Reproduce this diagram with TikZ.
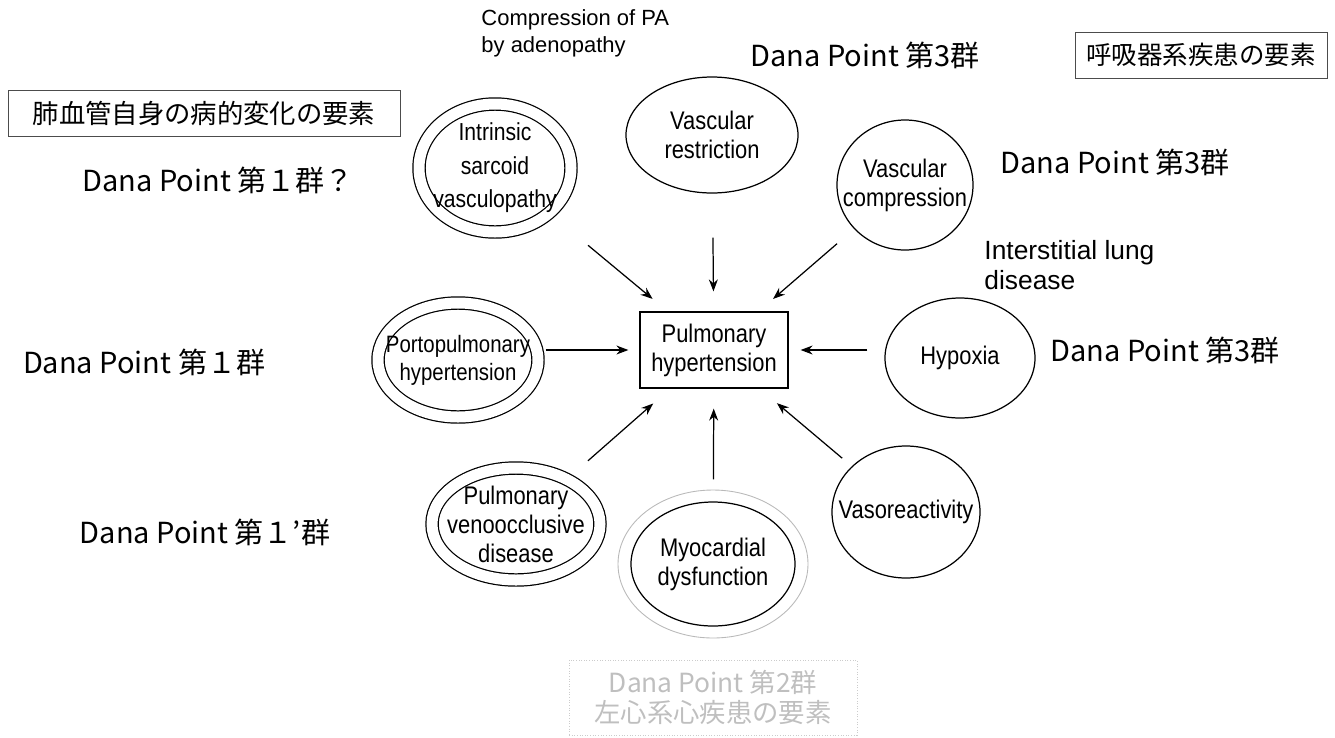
\documentclass[tikz,border=0pt]{standalone}
\usepackage{fontspec}
\setmainfont{Liberation Sans}
\newfontfamily\narrow{Liberation Sans}[FakeStretch=0.86]
\newfontfamily\jp{Noto Sans CJK JP}
\usetikzlibrary{arrows.meta,shapes.geometric,positioning}

\begin{document}
\begin{tikzpicture}[
  line width=0.7pt, >={Stealth[length=2.4mm,width=1.8mm]},
  bubble/.style={ellipse, draw=black, inner sep=-6mm, align=center, font=\narrow\fontsize{14.5}{16.5}\selectfont},
  twin/.style={bubble, double, double distance=2.2mm},
  term/.style={rectangle, draw=black, align=center, minimum width=2.96cm, minimum height=1.52cm, font=\narrow\fontsize{14.5}{16.5}\selectfont},
  dpt/.style={font=\jp\fontsize{16.5}{20}\selectfont},
  tag/.style={rectangle, draw=black!70, line width=0.5pt, font=\jp\fontsize{15}{18}\selectfont},
  note/.style={align=left, anchor=west, font=\fontsize{12.5}{15.5}\selectfont}
]
\useasboundingbox (0,0) rectangle (26.7,-14.74);

% centre
\node[term] (ph) at (14.28,-7.0) {Pulmonary\\hypertension};

% causes
\node[bubble, minimum width=3.44cm, minimum height=2.32cm] (vr) at (14.24,-2.7) {Vascular\\restriction};
\node[bubble, minimum width=2.72cm, minimum height=2.6cm] (vc) at (18.1,-3.7) {Vascular\\compression};
\node[bubble, minimum width=3.0cm, minimum height=2.4cm] (hy) at (19.2,-7.16) {Hypoxia};
\node[bubble, minimum width=2.96cm, minimum height=2.64cm] (vs) at (18.12,-10.24) {Vasoreactivity};
\node[bubble, minimum width=3.28cm, minimum height=2.48cm] (myo) at (14.26,-11.28) {Myocardial\\dysfunction};
\draw[gray!55, line width=0.5pt] (myo) ellipse (1.9cm and 1.48cm);
\node[twin, minimum width=3.36cm, minimum height=2.24cm] (pvod) at (10.32,-10.48) {Pulmonary\\venoocclusive\\disease};
\node[twin, minimum width=3.2cm, minimum height=2.28cm, font=\narrow\fontsize{13.5}{16}\selectfont] (pph) at (9.16,-7.2) {Portopulmonary\\hypertension};
\node[twin, minimum width=3.04cm, minimum height=2.56cm, font=\narrow\fontsize{14}{19}\selectfont] (isv) at (9.9,-3.36) {Intrinsic\\sarcoid\\vasculopathy};

% arrows
\draw[->, shorten <=0.88cm, shorten >=0.4cm] (vr) -- (ph);
\draw[->, shorten <=1.0cm, shorten >=0.39cm] (isv) -- (ph);
\draw[->, shorten <=0.45cm, shorten >=0.38cm] (vc) -- (ph);
\draw[->, shorten <=0.34cm, shorten >=0.24cm] (hy.west |- ph.east) -- (ph.east);
\draw[->, shorten <=0.14cm, shorten >=0.22cm] (pph.east |- ph.west) -- (ph.west);
\draw[->, shorten <=0.55cm, shorten >=0.45cm] (pvod) -- (ph);
\draw[->, shorten <=0.44cm, shorten >=0.4cm] (myo) -- (ph);
\draw[->, shorten <=0.25cm, shorten >=0.45cm] (vs) -- (ph);

% labels
\node[note] (comp) at (9.5,-0.66) {Compression of PA\\by adenopathy};
\node[note, font=\fontsize{15}{17}\selectfont] (ild) at (19.56,-5.3) {Interstitial lung\\disease};
\node[dpt] (dp3a) at (17.3,-1.1) {Dana Point 第3群};
\node[dpt] (dp3b) at (22.3,-3.24) {Dana Point 第3群};
\node[dpt] (dp3c) at (23.3,-7.0) {Dana Point 第3群};
\node[dpt] (dp1q) at (4.36,-3.6) {Dana Point 第１群？};
\node[dpt] (dp1) at (2.88,-7.24) {Dana Point 第１群};
\node[dpt] (dp1p) at (4.1,-10.64) {Dana Point 第１’群};

% groups
\node[tag, minimum width=7.84cm, minimum height=0.92cm] (vasc) at (4.08,-2.26) {肺血管自身の病的変化の要素};
\node[tag, font=\jp\fontsize{14.5}{17}\selectfont, minimum width=5.04cm, minimum height=0.92cm] (resp) at (24.02,-1.1) {呼吸器系疾患の要素};
\node[tag, draw=gray!40, densely dotted, text=gray!50, align=center, minimum width=5.76cm, minimum height=1.5cm, font=\jp\fontsize{15}{17.5}\selectfont] (lh) at (14.26,-13.95) {Dana Point 第2群\\左心系心疾患の要素};

\end{tikzpicture}
\end{document}
